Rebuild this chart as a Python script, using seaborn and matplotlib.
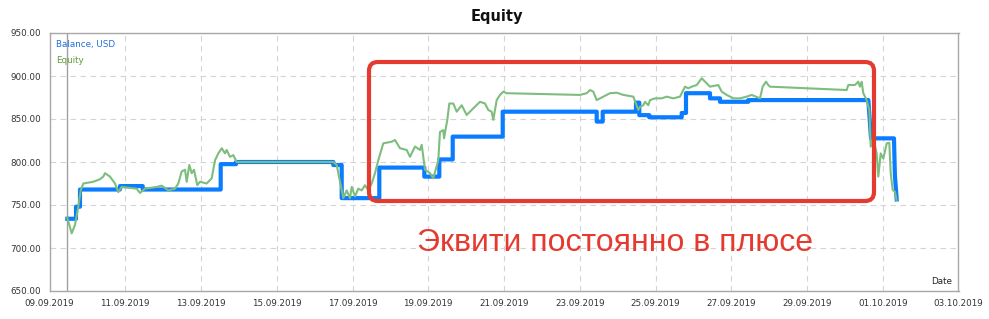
import numpy as np
import pandas as pd
import matplotlib
matplotlib.use("Agg")
import matplotlib.pyplot as plt
from matplotlib.patches import FancyBboxPatch
import seaborn as sns

# ---------------- data ----------------
start_date = "2019-09-09"
x_start, x_end = "2019-09-09", "2019-10-03"
y_ticks = [650, 700, 750, 800, 850, 900, 950]

# balance (days since start_date, USD)
balance_days = [0.470,
                0.700, 0.700, 0.805, 0.805, 1.861, 1.861, 2.461, 2.461,
                4.520, 4.520, 4.924, 4.924, 7.493, 7.493, 7.715, 7.715,
                8.708, 8.708, 9.896, 9.896, 10.292, 10.292, 10.646, 10.646,
                11.966, 11.966, 14.448, 14.448, 14.606, 14.606, 15.485, 15.485,
                15.572, 15.572, 15.836, 15.836, 16.692, 16.692, 16.805, 16.805,
                17.439, 17.439, 17.703, 17.703, 18.450, 18.450,
                21.619, 21.690, 22.297, 22.320, 22.368]
balance_values = [734,
                  734, 748, 748, 768, 768, 772, 772, 768,
                  768, 797.5, 797.5, 800, 800, 796.5, 796.5, 758,
                  758, 793.5, 793.5, 783, 783, 803, 803, 829.5,
                  829.5, 858.5, 858.5, 847, 847, 858.5, 858.5, 869,
                  869, 854.5, 854.5, 852, 852, 857, 857, 880,
                  880, 874, 874, 870, 870, 872,
                  872, 827.5, 827.5, 785, 756.5]

equity_days = [0.470, 0.586, 0.673, 0.760, 0.824, 0.892, 1.156, 1.333, 1.420, 1.465,
               1.597, 1.729, 1.817, 1.906, 2.302, 2.389, 2.521, 2.830, 2.962, 3.137,
               3.314, 3.401, 3.490, 3.578, 3.622, 3.691, 3.754, 3.815, 3.902, 3.974,
               4.150, 4.282, 4.370, 4.457, 4.547, 4.634, 4.678, 4.766, 4.853, 4.943,
               7.493, 7.583, 7.757, 7.847, 7.934, 7.979, 8.066, 8.153, 8.243, 8.330,
               8.417, 8.507, 8.594, 8.681, 8.813, 9.035, 9.122, 9.254, 9.431, 9.518,
               9.650, 9.782, 9.827, 9.914, 10.046, 10.133, 10.265, 10.310, 10.397, 10.416,
               10.503, 10.556, 10.661, 10.751, 10.883, 11.015, 11.189, 11.366, 11.498, 11.585,
               11.675, 11.717, 11.807, 11.894, 11.982, 12.071, 14.007, 14.184, 14.271, 14.358,
               14.448, 14.535, 14.799, 14.976, 15.150, 15.414, 15.546, 15.591, 15.678, 15.723,
               15.810, 15.855, 15.987, 16.164, 16.296, 16.470, 16.647, 16.734, 16.779, 16.866,
               16.956, 17.088, 17.220, 17.307, 17.439, 17.658, 17.748, 17.880, 18.054, 18.231,
               18.408, 18.540, 18.759, 18.830, 18.917, 18.978, 19.023, 21.048, 21.090, 21.267,
               21.354, 21.399, 21.444, 21.486, 21.576, 21.645, 21.682, 21.751, 21.840, 21.883,
               21.946, 22.015, 22.105, 22.173, 22.210, 22.263, 22.323, 22.363]
equity_values = [735, 717, 727, 748, 767, 775, 777, 780, 783, 787,
                 783, 775, 765, 771, 769, 764, 769, 771, 772.5, 767,
                 769, 775, 789, 791, 777, 796.5, 787, 791, 773, 777,
                 775, 781, 802, 810, 816, 810, 814, 806, 808, 800,
                 800, 796.5, 758, 767, 758, 771, 760, 769, 767, 773,
                 767, 775, 787, 802, 821.7, 823.6, 825.6, 816, 814, 806,
                 818, 814, 820, 791, 787, 781, 802, 835, 837, 827.6,
                 849, 868, 868, 858.5, 866, 854.7, 862.4, 870, 868, 860.5,
                 858.5, 849, 872, 878, 881.8, 880, 878, 880, 883.7, 881.8,
                 872, 874, 880, 880.6, 878, 876, 860.5, 864, 866, 870,
                 866, 872, 874, 874, 876, 874, 876, 883.7, 887.6, 885.7,
                 887.6, 889.5, 897.3, 893.4, 887.6, 889.5, 881.8, 878, 874, 874,
                 876, 878, 874, 887.6, 893.4, 889.5, 887.6, 883.7, 889.5, 889.5,
                 893.4, 887.6, 893.4, 880, 872, 860.5, 817.8, 827.5, 810, 783,
                 810, 804, 821.7, 822.4, 787, 767.4, 765.5, 756]

title = "Equity"
legend_labels = ["Balance, USD", "Equity"]
annotation = "Эквити постоянно в плюсе"

# ---------------- build frames ----------------
t0 = pd.Timestamp(start_date)
bal = pd.DataFrame({"date": t0 + pd.to_timedelta(balance_days, unit="D"),
                    "value": balance_values})
eq = pd.DataFrame({"date": t0 + pd.to_timedelta(equity_days, unit="D"),
                   "value": equity_values})

# ---------------- figure ----------------
W, H = 989, 319
fig = plt.figure(figsize=(W / 100, H / 100), dpi=100)
ax = fig.add_axes([49.5 / W, 1 - 291 / H, 909 / W, 258 / H])

grid_c = "#d4d4d4"
spine_c = "#a8a8a8"
blue = "#0a7cff"
green = "#7dbd7d"

sns.lineplot(data=bal, x="date", y="value", ax=ax, estimator=None, sort=False,
             color=blue, linewidth=3.0, zorder=3)
sns.lineplot(data=eq, x="date", y="value", ax=ax, estimator=None, sort=False,
             color=green, linewidth=1.5, zorder=4)

ax.set_xlim(pd.Timestamp(x_start), pd.Timestamp(x_end))
ax.set_ylim(y_ticks[0], y_ticks[-1])
ax.set_yticks(y_ticks)
ax.yaxis.set_major_formatter(matplotlib.ticker.FormatStrFormatter("%.2f"))
ticks = pd.date_range(x_start, x_end, freq="2D")
ax.set_xticks(ticks)
ax.set_xticklabels([d.strftime("%d.%m.%Y") for d in ticks])
ax.set_xlabel("")
ax.set_ylabel("")

ax.grid(True, color=grid_c, linestyle=(0, (5, 4)), linewidth=0.8, zorder=0)
ax.set_axisbelow(True)
for s in ax.spines.values():
    s.set_color(spine_c)
    s.set_linewidth(1.0)
ax.tick_params(axis="both", length=0, labelsize=6.3, labelcolor="#333333")
ax.tick_params(axis="y", pad=6)
ax.tick_params(axis="x", pad=5.5)

# start-of-data marker line
ax.axvline(bal["date"].iloc[0], color="#a0a0a0", linewidth=1.0, zorder=1)

# legend-like labels
ax.text(0.007, 0.955, legend_labels[0], transform=ax.transAxes, color="#1f6fe0",
        fontsize=6.3, va="center", ha="left")
ax.text(0.007, 0.893, legend_labels[1], transform=ax.transAxes, color="#669b3a",
        fontsize=6.3, va="center", ha="left")
ax.text(0.993, 0.035, "Date", transform=ax.transAxes, color="#222222",
        fontsize=6.3, va="center", ha="right")

fig.text(497 / W, 1 - 17 / H, title, fontsize=10.5, fontweight="bold",
         ha="center", va="center", color="#111111")

# red annotation box and text (figure pixel coords)
box = FancyBboxPatch((369 / W, 1 - 201 / H), (874 - 369) / W, (201 - 62) / H,
                     boxstyle="round,pad=0,rounding_size=0.009",
                     transform=fig.transFigure, fill=False,
                     edgecolor="#e53a30", linewidth=3.0, zorder=10,
                     mutation_aspect=W / H)
fig.add_artist(box)
fig.text(615 / W, 1 - 243 / H, annotation, fontsize=23,
         family=["Liberation Sans", "DejaVu Sans"], color="#e53a30",
         ha="center", va="center")

fig.savefig("out.png", dpi=100)
